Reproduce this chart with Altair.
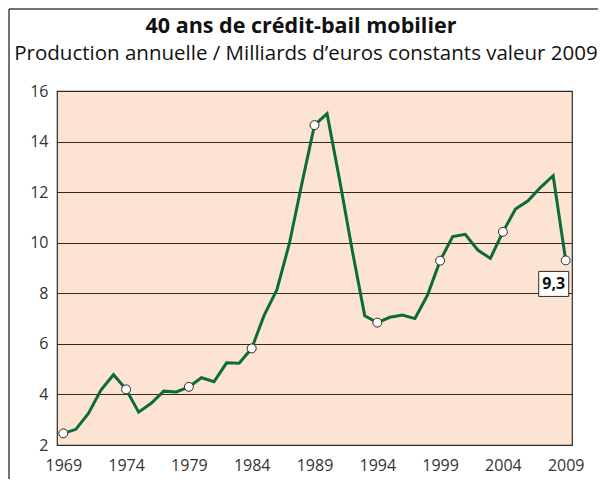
import altair as alt
import pandas as pd

years = list(range(1969, 2010))
values = [2.46, 2.62, 3.25, 4.17, 4.78, 4.2, 3.3, 3.65, 4.13, 4.1,
          4.3, 4.66, 4.5, 5.25, 5.23, 5.82, 7.14, 8.13, 9.97, 12.35,
          14.65, 15.1, 12.48, 9.71, 7.11, 6.84, 7.05, 7.14, 7.0, 7.93,
          9.29, 10.24, 10.33, 9.71, 9.38, 10.43, 11.33, 11.66, 12.19, 12.65,
          9.3]
marker_years = [1969, 1974, 1979, 1984, 1989, 1994, 1999, 2004, 2009]
tick_years = [1969, 1974, 1979, 1984, 1989, 1994, 1999, 2004, 2009]
y_ticks = [2, 4, 6, 8, 10, 12, 14, 16]
last_label = "9,3"
title_text = "40 ans de crédit-bail mobilier"
subtitle_text = "Production annuelle / Milliards d\u2019euros constants valeur 2009"

df = pd.DataFrame({"annee": years, "valeur": values})
df_mark = df[df["annee"].isin(marker_years)]
df_last = df[df["annee"] == 2009].assign(label=last_label)

FONT = "Open Sans"
GREEN = "#0b6b3a"
DARK = "#2b2b2b"

x = alt.X("annee:Q", scale=alt.Scale(domain=[1968.5, 2009.5], nice=False, zero=False),
          axis=alt.Axis(values=tick_years, format="d", title=None, grid=False, ticks=False,
                        domain=False, labelPadding=12, labelFontSize=16, labelFont=FONT,
                        labelColor="#333333", labelFlush=False))
y = alt.Y("valeur:Q", scale=alt.Scale(domain=[2, 16], nice=False, zero=False),
          axis=alt.Axis(values=y_ticks, title=None, grid=True, gridColor=DARK, gridWidth=1.2,
                        gridOpacity=1, ticks=False, domain=False, labelPadding=9,
                        labelFontSize=16, labelFont=FONT, labelColor="#333333"))

line = alt.Chart(df).mark_line(color=GREEN, strokeWidth=3).encode(x=x, y=y)
pts = alt.Chart(df_mark).mark_point(filled=True, fill="white", stroke=DARK, strokeWidth=1,
                                    size=80, opacity=1).encode(x=x, y=y)
box = alt.Chart(df_last).mark_point(shape="M-27,11H3V36H-27Z", size=4, filled=True,
                                    fill="white", stroke=DARK, strokeWidth=1,
                                    opacity=1).encode(x=x, y=y)
txt = alt.Chart(df_last).mark_text(dx=-12, dy=24, baseline="middle", align="center",
                                   font=FONT, fontSize=16, fontWeight="bold",
                                   color="#111111").encode(x=x, y=y, text="label:N")

one = pd.DataFrame({"title": [title_text], "subtitle": [subtitle_text]})
title = alt.Chart(one).mark_text(align="center", baseline="alphabetic", font=FONT,
                                 fontSize=21.5, fontWeight="bold", color="#111111").encode(
    x=alt.value(244), y=alt.value(-58), text="title:N")
subtitle = alt.Chart(one).mark_text(align="center", baseline="alphabetic", font=FONT,
                                    fontSize=20.5, color="#111111").encode(
    x=alt.value(249), y=alt.value(-31), text="subtitle:N")

frame_left = alt.Chart(one).mark_rule(color="#444444", strokeWidth=1.5).encode(
    x=alt.value(-48), y=alt.value(-82), y2=alt.value(410))
frame_top = alt.Chart(one).mark_rule(color="#444444", strokeWidth=1.5).encode(
    x=alt.value(-48), x2=alt.value(560), y=alt.value(-82))

chart = alt.layer(box, line, pts, txt, title, subtitle, frame_left, frame_top).properties(
    width=515, height=354,
    autosize=alt.AutoSizeParams(type="none"),
    padding={"left": 49, "top": 83, "right": 26, "bottom": 34},
    background="white",
).configure_view(fill="#fde3d1", stroke=DARK, strokeWidth=1.2)

chart.save("out.html", embed_options={"renderer": "svg", "actions": False})
